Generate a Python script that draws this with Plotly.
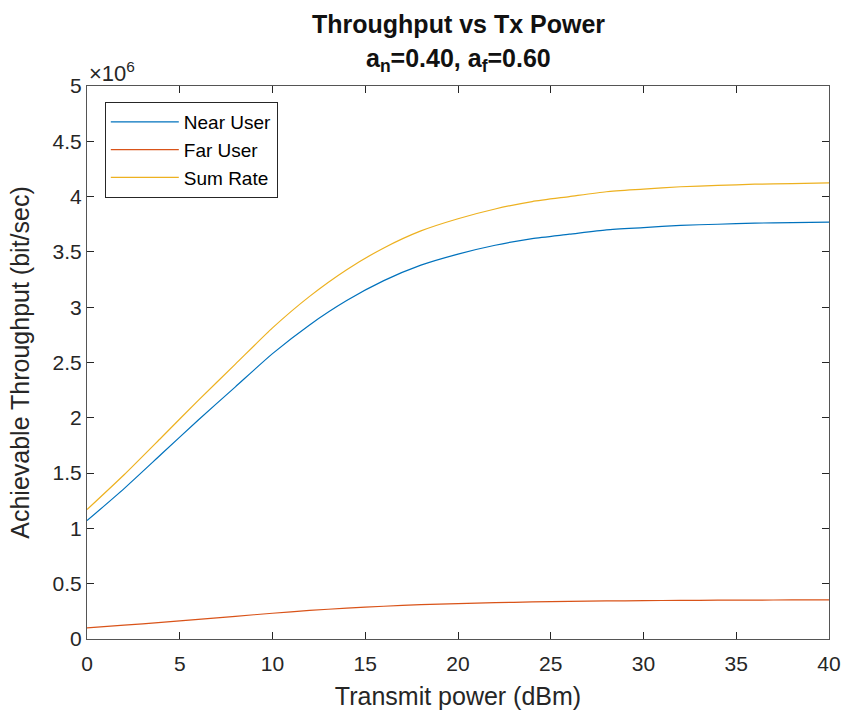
import plotly.graph_objects as go

power_dbm = [0, 2, 4, 6, 8, 10, 12, 14, 16, 18, 20, 22, 24, 26, 28, 30, 32, 34, 36, 38, 40]
near_user = [1.07, 1.36, 1.67, 1.98, 2.28, 2.58, 2.84, 3.06, 3.24, 3.38, 3.48, 3.56, 3.62, 3.66, 3.70, 3.72, 3.74, 3.75, 3.76, 3.765, 3.77]
far_user = [0.100, 0.125, 0.150, 0.178, 0.205, 0.233, 0.258, 0.279, 0.296, 0.310, 0.320, 0.328, 0.335, 0.340, 0.344, 0.347, 0.349, 0.351, 0.352, 0.353, 0.354]
sum_rate = [1.17, 1.485, 1.82, 2.158, 2.485, 2.813, 3.098, 3.339, 3.536, 3.69, 3.80, 3.888, 3.955, 4.00, 4.044, 4.067, 4.089, 4.101, 4.112, 4.118, 4.124]

y_ticks = [0, 0.5, 1, 1.5, 2, 2.5, 3, 3.5, 4, 4.5, 5]
y_tick_labels = ["0", "0.5", "1", "1.5", "2", "2.5", "3", "3.5", "4", "4.5", "5"]
x_ticks = [0, 5, 10, 15, 20, 25, 30, 35, 40]

FONT = "Liberation Sans, Arial, sans-serif"
AX = "#262626"

fig = go.Figure()
for name, vals, col in [("Near User", near_user, "#0072BD"),
                        ("Far User", far_user, "#D95319"),
                        ("Sum Rate", sum_rate, "#EDB120")]:
    fig.add_trace(go.Scatter(x=power_dbm, y=vals, mode="lines", name=name,
                             line=dict(color=col, width=1.2, shape="spline", smoothing=0.6)))

axis_common = dict(showgrid=False, zeroline=False, showline=True, linecolor="#555555",
                   linewidth=1, mirror="ticks", ticks="inside", ticklen=7, tickcolor=AX,
                   automargin=False,
                   tickfont=dict(family=FONT, size=21, color=AX))

fig.update_layout(
    width=845, height=710,
    margin=dict(l=87, r=16, t=86, b=71),
    paper_bgcolor="white", plot_bgcolor="white",
    font=dict(family=FONT, color=AX),
    xaxis=dict(range=[0, 40], tickvals=x_ticks, ticklabelstandoff=6,
               title=dict(text="Transmit power (dBm)", font=dict(family=FONT, size=25, color=AX)),
               **axis_common),
    yaxis=dict(range=[0, 5], tickvals=y_ticks, ticktext=y_tick_labels,
               title=dict(text="Achievable Throughput (bit/sec)", font=dict(family=FONT, size=25, color=AX)),
               **axis_common),
    legend=dict(x=0.024, y=0.971, xanchor="left", yanchor="top",
                bgcolor="white", bordercolor="#262626", borderwidth=1,
                font=dict(family=FONT, size=19, color="#000000"),
                tracegroupgap=0, itemwidth=68),
    showlegend=True,
)

# two-line bold title
fig.add_annotation(text="<b>Throughput vs Tx Power</b>", xref="paper", yref="paper",
                   x=0.5, y=(639 - 24) / 553, xanchor="center", yanchor="middle",
                   showarrow=False, font=dict(family=FONT, size=25, color="#111111"))
fig.add_annotation(text="<b>a<sub>n</sub>=0.40, a<sub>f</sub>=0.60</b>", xref="paper", yref="paper",
                   x=0.5, y=(639 - 60) / 553, xanchor="center", yanchor="middle",
                   showarrow=False, font=dict(family=FONT, size=25, color="#111111"))

fig.add_annotation(text="×10<sup>6</sup>", xref="paper", yref="paper", x=0.0, y=1.0,
                   xanchor="left", yanchor="bottom", showarrow=False, yshift=-2,
                   font=dict(family=FONT, size=22, color=AX))

fig.write_html("out.html", config={"displayModeBar": False},
               post_script="document.body.style.margin='0';")
